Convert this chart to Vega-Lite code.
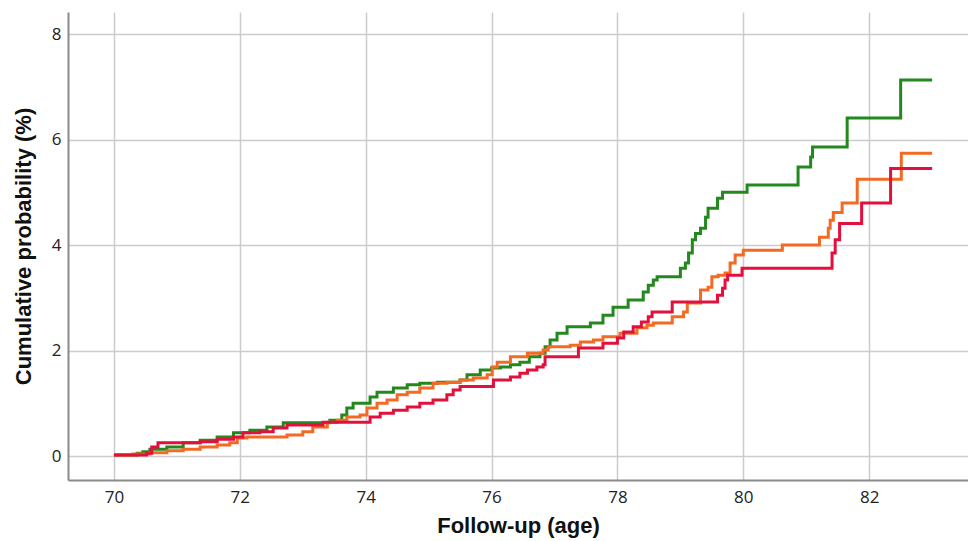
{
  "$schema": "https://vega.github.io/schema/vega-lite/v6.json",
  "width": 900,
  "height": 468,
  "autosize": {"type": "none"},
  "padding": {"left": 68, "top": 12, "right": 0, "bottom": 61},
  "background": "white",
  "config": {"view": {"stroke": null}},
  "datasets": {
    "green": [[70.0,0.02],[70.37,0.05],[70.46,0.08],[70.57,0.13],[70.84,0.17],[71.1,0.25],[71.37,0.3],[71.64,0.36],[71.9,0.44],[72.16,0.49],[72.43,0.55],[72.69,0.63],[73.43,0.68],[73.62,0.78],[73.7,0.91],[73.8,1.0],[74.07,1.12],[74.18,1.21],[74.44,1.29],[74.66,1.35],[74.86,1.38],[75.14,1.4],[75.5,1.44],[75.61,1.54],[75.82,1.63],[76.0,1.67],[76.14,1.69],[76.3,1.73],[76.45,1.78],[76.6,1.88],[76.77,1.95],[76.85,2.07],[76.93,2.2],[77.04,2.33],[77.2,2.45],[77.57,2.52],[77.77,2.67],[77.93,2.82],[78.17,2.96],[78.41,3.11],[78.49,3.24],[78.57,3.34],[78.63,3.4],[79.0,3.56],[79.08,3.66],[79.13,3.85],[79.19,4.1],[79.24,4.22],[79.32,4.32],[79.4,4.53],[79.44,4.7],[79.59,4.89],[79.67,5.0],[80.06,5.14],[80.87,5.48],[81.07,5.67],[81.1,5.86],[81.65,6.41],[82.5,7.13],[83.0,7.13]],
    "orange": [[70.0,0.02],[70.3,0.04],[70.57,0.06],[70.84,0.1],[71.1,0.13],[71.37,0.17],[71.64,0.21],[71.84,0.25],[71.96,0.34],[72.11,0.36],[72.75,0.4],[73.0,0.46],[73.16,0.55],[73.39,0.64],[73.55,0.68],[73.7,0.74],[73.91,0.78],[74.02,0.91],[74.18,1.0],[74.34,1.06],[74.5,1.16],[74.66,1.21],[74.86,1.29],[75.07,1.38],[75.29,1.4],[75.5,1.44],[75.71,1.48],[75.93,1.54],[76.01,1.69],[76.09,1.78],[76.3,1.88],[76.57,1.95],[76.82,2.01],[76.9,2.07],[77.25,2.1],[77.41,2.16],[77.62,2.2],[77.77,2.26],[78.04,2.33],[78.31,2.43],[78.47,2.48],[78.57,2.52],[78.87,2.64],[79.05,2.73],[79.11,2.9],[79.32,3.15],[79.44,3.2],[79.5,3.4],[79.6,3.43],[79.71,3.47],[79.79,3.66],[79.87,3.81],[80.0,3.9],[80.62,4.0],[81.21,4.15],[81.35,4.32],[81.38,4.47],[81.43,4.62],[81.57,4.8],[81.81,5.25],[82.51,5.74],[83.0,5.74]],
    "red": [[70.0,0.02],[70.52,0.05],[70.6,0.17],[70.7,0.25],[71.37,0.27],[71.64,0.32],[71.9,0.36],[72.05,0.44],[72.32,0.46],[72.53,0.53],[72.75,0.59],[73.32,0.64],[74.07,0.74],[74.23,0.81],[74.44,0.87],[74.66,0.93],[74.86,1.0],[75.07,1.06],[75.29,1.16],[75.39,1.25],[75.5,1.32],[76.03,1.44],[76.3,1.5],[76.45,1.57],[76.57,1.63],[76.72,1.69],[76.82,1.73],[76.85,1.88],[77.38,2.05],[77.77,2.14],[78.0,2.24],[78.1,2.35],[78.25,2.45],[78.38,2.54],[78.49,2.64],[78.55,2.73],[78.87,2.92],[79.59,3.05],[79.67,3.18],[79.71,3.34],[79.75,3.43],[79.98,3.56],[81.41,3.85],[81.46,4.1],[81.53,4.41],[81.88,4.8],[82.34,5.45],[83.0,5.45]]
  },
  "encoding": {
    "x": {
      "field": "x", "type": "quantitative",
      "scale": {"domain": [69.27, 83.57], "nice": false, "zero": false},
      "axis": {"values": [70,72,74,76,78,80,82], "title": "Follow-up (age)", "grid": true, "gridColor": "#cccccc", "gridWidth": 1.5, "domainColor": "#8a8a8a", "domainWidth": 2, "ticks": false, "labelPadding": 9, "labelFont": "Open Sans", "labelFontSize": 17, "labelColor": "#222222", "titleFont": "Liberation Sans", "titleFontSize": 22, "titleFontWeight": "bold", "titleColor": "#111111", "titlePadding": 10}
    },
    "y": {
      "field": "y", "type": "quantitative",
      "scale": {"domain": [-0.455, 8.42], "nice": false, "zero": false},
      "axis": {"values": [0,2,4,6,8], "title": "Cumulative probability (%)", "grid": true, "gridColor": "#cccccc", "gridWidth": 1.5, "domainColor": "#8a8a8a", "domainWidth": 2, "ticks": false, "labelPadding": 7, "labelFont": "Open Sans", "labelFontSize": 17, "labelColor": "#222222", "titleFont": "Liberation Sans", "titleFontSize": 22, "titleFontWeight": "bold", "titleColor": "#111111", "titlePadding": 16}
    }
  },
  "layer": [
    {
      "data": {"name": "green"},
      "transform": [{"calculate": "datum[0]", "as": "x"}, {"calculate": "datum[1]", "as": "y"}],
      "mark": {"type": "line", "interpolate": "step-after", "color": "#23881e", "strokeWidth": 3}
    },
    {
      "data": {"name": "orange"},
      "transform": [{"calculate": "datum[0]", "as": "x"}, {"calculate": "datum[1]", "as": "y"}],
      "mark": {"type": "line", "interpolate": "step-after", "color": "#f26a24", "strokeWidth": 3}
    },
    {
      "data": {"name": "red"},
      "transform": [{"calculate": "datum[0]", "as": "x"}, {"calculate": "datum[1]", "as": "y"}],
      "mark": {"type": "line", "interpolate": "step-after", "color": "#e2103c", "strokeWidth": 3}
    }
  ]
}
